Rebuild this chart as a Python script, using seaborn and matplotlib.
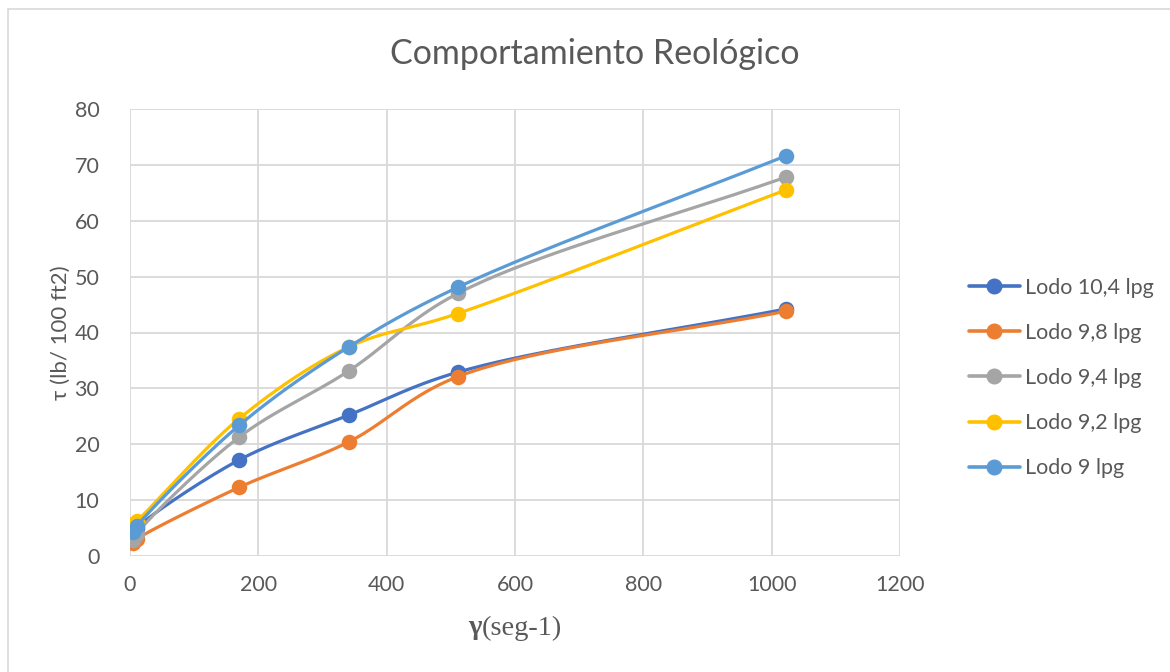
import numpy as np
import pandas as pd
import matplotlib
matplotlib.use("Agg")
import matplotlib.pyplot as plt
from matplotlib.lines import Line2D
from matplotlib.patches import Rectangle
import seaborn as sns

# Shear rate (1/s) and shear stress readings per mud weight
shear_rate = [5.11, 10.22, 170.3, 340.6, 510.9, 1021.8]
series_names = ["Lodo 10,4 lpg", "Lodo 9,8 lpg", "Lodo 9,4 lpg", "Lodo 9,2 lpg", "Lodo 9 lpg"]
lodo_10_4 = [4.0, 5.0, 17.2, 25.2, 32.9, 44.2]
lodo_9_8 = [2.4, 3.0, 12.3, 20.4, 32.1, 43.8]
lodo_9_4 = [2.9, 4.0, 21.3, 33.1, 47.0, 67.8]
lodo_9_2 = [5.8, 6.2, 24.6, 37.4, 43.4, 65.5]
lodo_9 = [4.3, 5.3, 23.4, 37.4, 48.1, 71.6]
series_values = [lodo_10_4, lodo_9_8, lodo_9_4, lodo_9_2, lodo_9]
colors = ["#4472C4", "#ED7D31", "#A5A5A5", "#FFC000", "#5B9BD5"]

x_ticks = [0, 200, 400, 600, 800, 1000, 1200]
y_ticks = [0, 10, 20, 30, 40, 50, 60, 70, 80]

sns.set_theme(style="white")
plt.rcParams["font.family"] = ["Lato", "DejaVu Sans"]
text_color = "#595959"
grid_color = "#D9D9D9"

fig = plt.figure(figsize=(11.7, 6.72), dpi=100)
ax = fig.add_axes([130 / 1170, 1 - 556 / 672, 770 / 1170, 447 / 672])

# outer chart frame
fig.patches.append(Rectangle((8 / 1170, -0.1), 1.2, 1 - 9 / 672 + 0.1, transform=fig.transFigure,
                             fill=False, edgecolor="#D9D9D9", linewidth=1.2, zorder=0))

xlim = (0, 1200)
ylim = (0, 80)
aspect = 447 / 770


def smooth(xs, ys, n=40):
    """Centripetal Catmull-Rom curve through the points, in screen-like units."""
    P = np.column_stack([(np.array(xs) - xlim[0]) / (xlim[1] - xlim[0]),
                         (np.array(ys) - ylim[0]) / (ylim[1] - ylim[0]) * aspect])
    P = np.vstack([2 * P[0] - P[1], P, 2 * P[-1] - P[-2]])
    out = []
    for i in range(1, len(P) - 2):
        p0, p1, p2, p3 = P[i - 1], P[i], P[i + 1], P[i + 2]
        t0 = 0.0
        t1 = t0 + max(np.linalg.norm(p1 - p0), 1e-9) ** 0.5
        t2 = t1 + max(np.linalg.norm(p2 - p1), 1e-9) ** 0.5
        t3 = t2 + max(np.linalg.norm(p3 - p2), 1e-9) ** 0.5
        for t in np.linspace(t1, t2, n, endpoint=(i == len(P) - 3)):
            a1 = (t1 - t) / (t1 - t0) * p0 + (t - t0) / (t1 - t0) * p1
            a2 = (t2 - t) / (t2 - t1) * p1 + (t - t1) / (t2 - t1) * p2
            a3 = (t3 - t) / (t3 - t2) * p2 + (t - t2) / (t3 - t2) * p3
            b1 = (t2 - t) / (t2 - t0) * a1 + (t - t0) / (t2 - t0) * a2
            b2 = (t3 - t) / (t3 - t1) * a2 + (t - t1) / (t3 - t1) * a3
            out.append((t2 - t) / (t2 - t1) * b1 + (t - t1) / (t2 - t1) * b2)
    out = np.array(out)
    return (out[:, 0] * (xlim[1] - xlim[0]) + xlim[0],
            out[:, 1] / aspect * (ylim[1] - ylim[0]) + ylim[0])


for k, (name, vals, c) in enumerate(zip(series_names, series_values, colors)):
    sx, sy = smooth(shear_rate, vals)
    curve = pd.DataFrame({"x": sx, "y": sy})
    sns.lineplot(data=curve, x="x", y="y", sort=False, estimator=None, color=c,
                 linewidth=2.3, ax=ax, zorder=3 + k, solid_capstyle="round")
    pts = pd.DataFrame({"x": shear_rate, "y": vals})
    sns.scatterplot(data=pts, x="x", y="y", color=c, s=125, edgecolor=c, linewidth=0,
                    ax=ax, zorder=3 + k)

ax.set_xlim(*xlim)
ax.set_ylim(*ylim)
ax.set_xticks(x_ticks)
ax.set_yticks(y_ticks)
ax.grid(True, color=grid_color, linewidth=1.3)
ax.set_axisbelow(True)
for s in ax.spines.values():
    s.set_visible(False)
ax.tick_params(axis="both", length=0, labelsize=15.5, labelcolor=text_color)
ax.tick_params(axis="x", pad=14)
ax.tick_params(axis="y", pad=22)
ax.set_xlabel("")
ax.set_ylabel("τ (lb/ 100 ft2)", fontsize=16, color=text_color, labelpad=3)

fig.text(595 / 1170, 1 - 54 / 672, "Comportamiento Reológico", ha="center", va="center",
         fontsize=24.5, color=text_color)

# x axis title: bold gamma followed by the unit text
fig.text(482 / 1170, 1 - 628 / 672, "γ", ha="right", va="center", fontsize=20.5,
         fontweight="bold", family="Liberation Serif", color=text_color)
fig.text(482 / 1170, 1 - 628 / 672, "(seg-1)", ha="left", va="center", fontsize=20.5,
         family="Liberation Serif", color=text_color)

handles = [Line2D([0], [0], color=c, linewidth=2.6, marker="o", markersize=10.5)
           for c in colors]
leg = fig.legend(handles, series_names, loc="center left",
                 bbox_to_anchor=(960 / 1170, 1 - 378 / 672), frameon=False,
                 fontsize=15.5, labelcolor=text_color, handlelength=2.4,
                 labelspacing=1.17, handletextpad=0.2, borderaxespad=0)

fig.savefig("out.png", dpi=100, facecolor="white")
